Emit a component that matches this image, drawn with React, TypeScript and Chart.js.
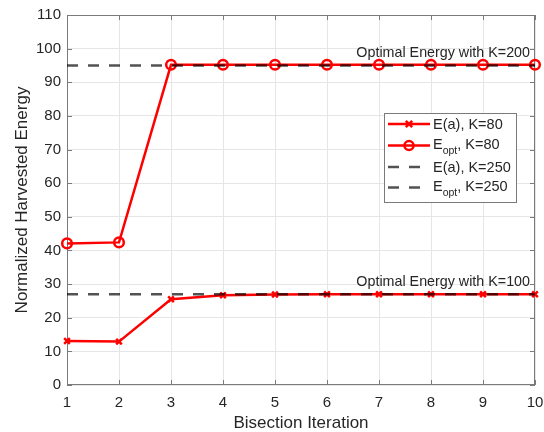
import React, { useEffect, useRef } from "react";
import { Chart, registerables } from "chart.js";

Chart.register(...registerables);

const iterations = [1, 2, 3, 4, 5, 6, 7, 8, 9, 10];
const eaK80 = [13.1, 12.9, 25.5, 26.7, 26.9, 27.0, 27.0, 27.0, 27.0, 27.0];
const eoptK80 = [42.1, 42.4, 95.2, 95.2, 95.2, 95.2, 95.2, 95.2, 95.2, 95.2];
const eaK250 = [27, 27, 27, 27, 27, 27, 27, 27, 27, 27];
const eoptK250 = [95, 95, 95, 95, 95, 95, 95, 95, 95, 95];
const yTicks = [0, 10, 20, 30, 40, 50, 60, 70, 80, 90, 100, 110];
const annotationTexts = ["Optimal Energy with K=200", "Optimal Energy with K=100"];
const annotationLevels = [95, 27];

const RED = "#ff0000";
const DASH = "rgba(0,0,0,0.68)";
const TEXT = "#262626";
const FONT = "Arial, 'Liberation Sans', Helvetica, sans-serif";

type LegendItem = { main: string; sub?: string; rest: string; kind: "cross" | "circle" | "dash" };
const legendItems: LegendItem[] = [
  { main: "E(a), K=80", rest: "", kind: "cross" },
  { main: "E", sub: "opt", rest: ", K=80", kind: "circle" },
  { main: "E(a), K=250", rest: "", kind: "dash" },
  { main: "E", sub: "opt", rest: ", K=250", kind: "dash" },
];

const framePlugin = {
  id: "frame",
  beforeDatasetsDraw(chart: any) {
    const { ctx, chartArea: a, scales } = chart;
    ctx.save();
    ctx.strokeStyle = "#7a7a7a";
    ctx.lineWidth = 1;
    ctx.strokeRect(a.left + 0.5, a.top + 0.5, a.right - a.left - 1, a.bottom - a.top - 1);
    const tl = 5;
    ctx.beginPath();
    for (const v of iterations) {
      const x = Math.round(scales.x.getPixelForValue(v)) + 0.5;
      ctx.moveTo(x, a.bottom);
      ctx.lineTo(x, a.bottom - tl);
      ctx.moveTo(x, a.top);
      ctx.lineTo(x, a.top + tl);
    }
    for (const v of yTicks) {
      const y = Math.round(scales.y.getPixelForValue(v)) + 0.5;
      ctx.moveTo(a.left, y);
      ctx.lineTo(a.left + tl, y);
      ctx.moveTo(a.right, y);
      ctx.lineTo(a.right - tl, y);
    }
    ctx.stroke();
    ctx.restore();
  },
  afterDatasetsDraw(chart: any) {
    const { ctx, chartArea: a, scales } = chart;
    ctx.save();
    // annotations
    ctx.fillStyle = TEXT;
    ctx.font = `14.3px ${FONT}`;
    ctx.textAlign = "right";
    ctx.textBaseline = "middle";
    annotationTexts.forEach((t, i) => {
      const x = scales.x.getPixelForValue(iterations[iterations.length - 1]) - 5;
      const y = scales.y.getPixelForValue(annotationLevels[i]) - 12;
      ctx.fillText(t, x, y);
    });
    // legend
    const bw = 132;
    const bh = 89;
    const bx = a.right - 19 - bw;
    const by = a.top + 98;
    ctx.fillStyle = "#ffffff";
    ctx.fillRect(bx, by, bw, bh);
    ctx.strokeStyle = "#7a7a7a";
    ctx.lineWidth = 1;
    ctx.strokeRect(bx + 0.5, by + 0.5, bw, bh);
    const rowY = [11, 32.5, 54, 74.5];
    legendItems.forEach((it, i) => {
      const ly = by + rowY[i];
      const x0 = bx + 4;
      const x1 = bx + 46;
      const xm = (x0 + x1) / 2;
      ctx.save();
      if (it.kind === "dash") {
        ctx.strokeStyle = DASH;
        ctx.lineWidth = 2.5;
        ctx.setLineDash([11, 10]);
      } else {
        ctx.strokeStyle = RED;
        ctx.lineWidth = 2.5;
      }
      ctx.beginPath();
      ctx.moveTo(x0, ly);
      ctx.lineTo(x1, ly);
      ctx.stroke();
      ctx.setLineDash([]);
      if (it.kind === "circle") {
        ctx.beginPath();
        ctx.arc(xm, ly, 4.5, 0, Math.PI * 2);
        ctx.stroke();
      } else if (it.kind === "cross") {
        const r = 3.2;
        ctx.beginPath();
        ctx.moveTo(xm - r, ly - r);
        ctx.lineTo(xm + r, ly + r);
        ctx.moveTo(xm - r, ly + r);
        ctx.lineTo(xm + r, ly - r);
        ctx.stroke();
      }
      ctx.restore();
      ctx.fillStyle = TEXT;
      ctx.textAlign = "left";
      ctx.textBaseline = "alphabetic";
      let tx = bx + 49;
      const base = it.sub ? ly + 3 : ly + 5;
      ctx.font = `14.5px ${FONT}`;
      ctx.fillText(it.main, tx, base);
      tx += ctx.measureText(it.main).width;
      if (it.sub) {
        ctx.font = `10.5px ${FONT}`;
        ctx.fillText(it.sub, tx, base + 5.5);
        tx += ctx.measureText(it.sub).width;
        ctx.font = `14.5px ${FONT}`;
      }
      if (it.rest) ctx.fillText(it.rest, tx, base);
    });
    ctx.restore();
  },
};

export default function App() {
  const ref = useRef<HTMLCanvasElement | null>(null);
  useEffect(() => {
    if (!ref.current) return;
    const chart = new Chart(ref.current, {
      type: "line",
      data: {
        labels: iterations,
        datasets: [
          {
            label: "E(a), K=80",
            data: iterations.map((x, i) => ({ x, y: eaK80[i] })),
            borderColor: RED,
            backgroundColor: RED,
            borderWidth: 2.5,
            pointStyle: "crossRot",
            pointRadius: 4,
            pointBorderWidth: 2.5,
            pointBorderColor: RED,
            clip: false,
            order: 1,
          },
          {
            label: "Eopt, K=80",
            data: iterations.map((x, i) => ({ x, y: eoptK80[i] })),
            borderColor: RED,
            backgroundColor: "rgba(0,0,0,0)",
            borderWidth: 2.5,
            pointStyle: "circle",
            pointRadius: 4.8,
            pointBorderWidth: 2.5,
            pointBorderColor: RED,
            pointBackgroundColor: "rgba(0,0,0,0)",
            clip: false,
            order: 1,
          },
          {
            label: "E(a), K=250",
            data: iterations.map((x, i) => ({ x, y: eaK250[i] })),
            borderColor: DASH,
            borderWidth: 2.5,
            borderDash: [11, 10],
            pointRadius: 0,
            order: 0,
          },
          {
            label: "Eopt, K=250",
            data: iterations.map((x, i) => ({ x, y: eoptK250[i] })),
            borderColor: DASH,
            borderWidth: 2.5,
            borderDash: [11, 10],
            pointRadius: 0,
            order: 0,
          },
        ],
      },
      options: {
        animation: false,
        responsive: true,
        maintainAspectRatio: false,
        layout: { padding: { left: 0, right: 9, top: 15, bottom: 0 } },
        plugins: { legend: { display: false }, tooltip: { enabled: false } },
        scales: {
          x: {
            type: "linear",
            min: 1,
            max: 10,
            afterFit: (s: any) => {
              s.height = 47;
              s.paddingLeft = 0;
              s.paddingRight = 0;
            },
            ticks: { stepSize: 1, color: TEXT, font: { size: 15, family: FONT }, padding: 9 },
            grid: { color: "#e6e6e6", drawTicks: false },
            border: { display: false },
            title: {
              display: true,
              text: "Bisection Iteration",
              color: TEXT,
              font: { size: 17, family: FONT },
              padding: { top: 0, bottom: -2 },
            },
          },
          y: {
            type: "linear",
            min: 0,
            max: 110,
            afterFit: (s: any) => {
              s.width = 67;
              s.paddingTop = 0;
              s.paddingBottom = 0;
            },
            ticks: { stepSize: 10, color: TEXT, font: { size: 15, family: FONT }, padding: 6 },
            grid: { color: "#e6e6e6", drawTicks: false },
            border: { display: false },
            title: {
              display: true,
              text: "Normalized Harvested Energy",
              color: TEXT,
              font: { size: 17, family: FONT },
              padding: { top: 12, bottom: 0 },
            },
          },
        },
      },
      plugins: [framePlugin],
    } as any);
    return () => chart.destroy();
  }, []);
  return (
    <div style={{ position: "absolute", left: 0, top: 0, width: 544, height: 432, background: "#fff" }}>
      <canvas ref={ref} />
    </div>
  );
}
